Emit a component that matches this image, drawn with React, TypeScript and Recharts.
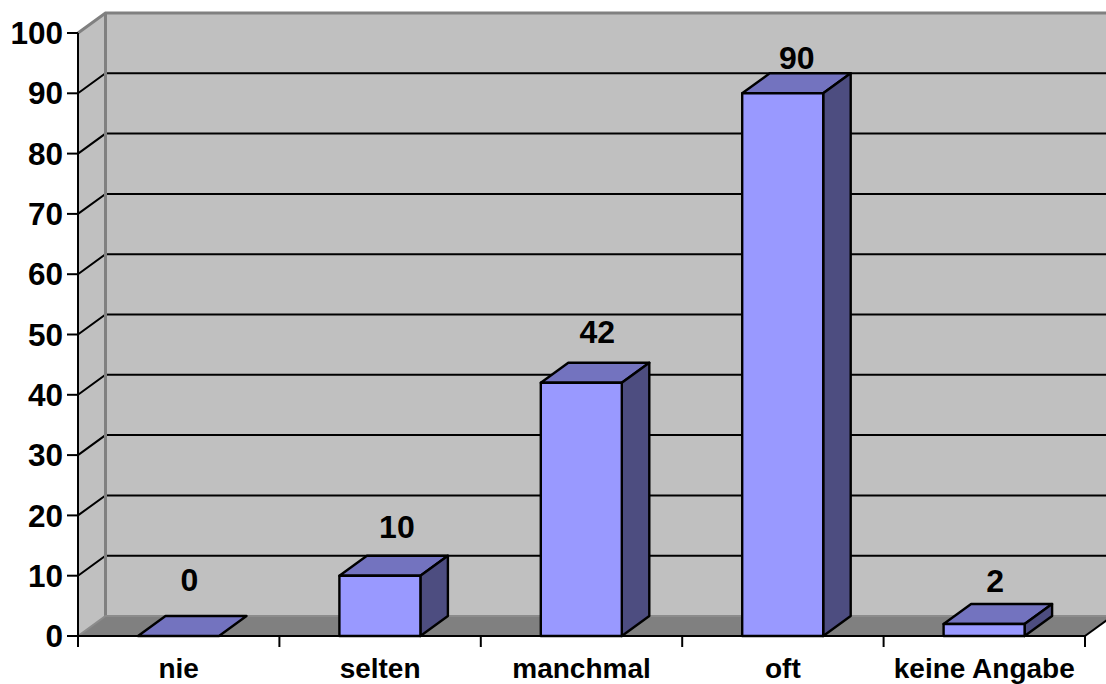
import React from 'react';
import { BarChart, Bar, XAxis, YAxis, ReferenceArea, LabelList } from 'recharts';

const categories = ['nie', 'selten', 'manchmal', 'oft', 'keine Angabe'];
const answers = [0, 10, 42, 90, 2];
const yTicks = [0, 10, 20, 30, 40, 50, 60, 70, 80, 90, 100];

const data = categories.map((name, i) => ({ name, answers: answers[i] }));

// depth of the fake 3d box
const DX = 27.5;
const DY = -20;
// where excel happened to put each value label, relative to the front top corner centre
const labelShift = [[11, -45], [17, -38], [16, -40], [14, -24], [11, -32]];

const font = '"Liberation Sans", Arial, sans-serif';

const Walls = (props: any) => {
  const { x, y, width, height } = props;
  const bottom = y + height;
  const right = x + width;
  const band = width / categories.length;
  return (
    <g>
      <polygon points={`${x},${y} ${x + DX},${y + DY} ${x + DX},${bottom + DY} ${x},${bottom}`} fill="#c0c0c0" />
      <rect x={x + DX} y={y + DY} width={width} height={height} fill="#c0c0c0" />
      <polygon points={`${x},${bottom} ${x + DX},${bottom + DY} ${right + DX},${bottom + DY} ${right},${bottom}`} fill="#808080" />
      {yTicks.slice(1, -1).map((t) => {
        const ty = bottom - (height * t) / 100;
        return (
          <polyline key={t} points={`${x},${ty} ${x + DX},${ty + DY} ${right + DX},${ty + DY}`} fill="none" stroke="#000" strokeWidth={2} />
        );
      })}
      <polyline points={`${x},${y} ${x + DX},${y + DY} ${right + DX},${y + DY}`} fill="none" stroke="#808080" strokeWidth={3} />
      <line x1={x + DX} y1={y + DY} x2={x + DX} y2={bottom + DY} stroke="#808080" strokeWidth={3} />
      <polyline points={`${x},${bottom} ${x + DX},${bottom + DY} ${right + DX},${bottom + DY}`} fill="none" stroke="#8c8c8c" strokeWidth={2} />
      <line x1={right} y1={bottom} x2={right + DX} y2={bottom + DY} stroke="#000" strokeWidth={2} />
      {categories.concat('').map((_, i) => (
        <line key={i} x1={x + i * band} y1={bottom} x2={x + i * band} y2={bottom + 11} stroke="#000" strokeWidth={2} />
      ))}
    </g>
  );
};

const Box = (props: any) => {
  const { x, y, width, height } = props;
  const r = x + width;
  const b = y + height;
  const edge = { stroke: '#000', strokeWidth: 2.4, strokeLinejoin: 'round' as const };
  return (
    <g>
      <polygon points={`${x},${y} ${x + DX},${y + DY} ${r + DX},${y + DY} ${r},${y}`} fill="#7373bf" {...edge} />
      {height > 0 && (
        <>
          <polygon points={`${r},${y} ${r + DX},${y + DY} ${r + DX},${b + DY} ${r},${b}`} fill="#4d4d80" {...edge} />
          <rect x={x} y={y} width={width} height={height} fill="#9999ff" {...edge} />
        </>
      )}
    </g>
  );
};

const ValueLabel = (props: any) => {
  const { x, y, width, index, value } = props;
  const [sx, sy] = labelShift[index];
  return (
    <text x={x + width / 2 + sx} y={y + sy} textAnchor="middle" fontFamily={font} fontWeight="bold" fontSize={32} fill="#000">
      {value}
    </text>
  );
};

export default function App() {
  return (
    <div style={{ position: 'absolute', left: 0, top: 0, width: 1106, height: 684 }}>
      <BarChart width={1106} height={684} data={data} margin={{ top: 33, right: 21, bottom: 0, left: 0 }} barSize={81}>
        <ReferenceArea x1="nie" x2="keine Angabe" y1={0} y2={100} shape={Walls} ifOverflow="visible" />
        <XAxis
          dataKey="name"
          height={48}
          tickLine={false}
          tickMargin={16}
          interval={0}
          axisLine={{ stroke: '#000', strokeWidth: 2 }}
          tick={{ fill: '#000', fontFamily: font, fontWeight: 'bold', fontSize: 28 }}
        />
        <YAxis
          width={78}
          domain={[0, 100]}
          ticks={yTicks}
          interval={0}
          tickSize={11}
          tickMargin={4}
          axisLine={{ stroke: '#000', strokeWidth: 2 }}
          tickLine={{ stroke: '#000', strokeWidth: 2 }}
          tick={{ fill: '#000', fontFamily: font, fontWeight: 'bold', fontSize: 31.5 }}
        />
        <Bar dataKey="answers" shape={Box} isAnimationActive={false}>
          <LabelList dataKey="answers" content={ValueLabel} />
        </Bar>
      </BarChart>
    </div>
  );
}
